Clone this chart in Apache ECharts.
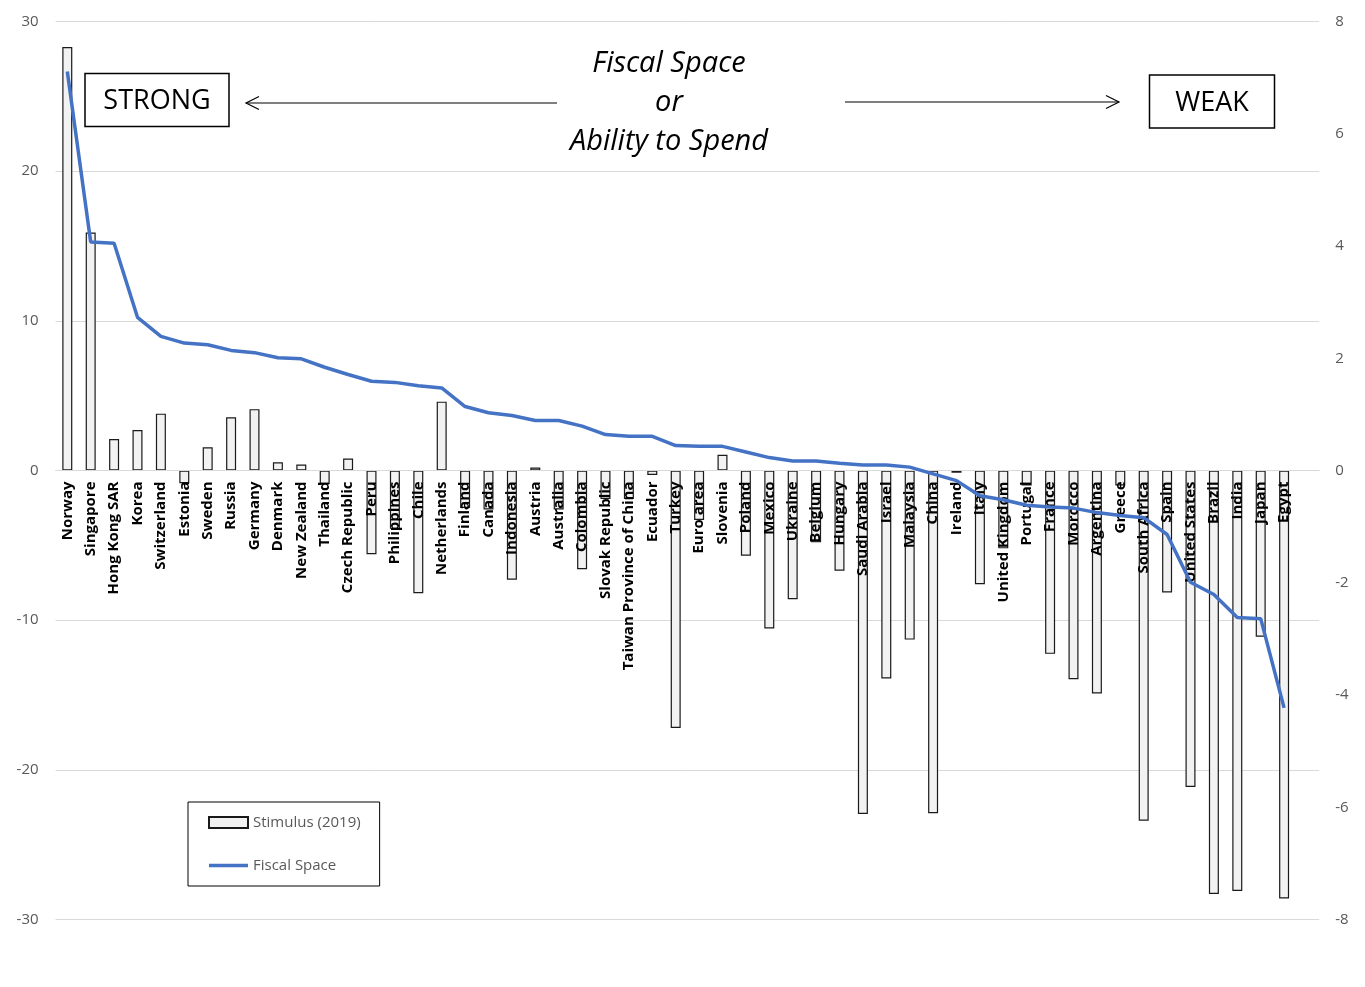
<!DOCTYPE html>
<html>
<head>
<meta charset="utf-8">
<script src="https://cdn.jsdelivr.net/npm/echarts@6/dist/echarts.min.js"></script>
<style>
  html, body { margin: 0; padding: 0; background: #ffffff; }
  #chart { width: 1365px; height: 987px; }
</style>
</head>
<body>
<div id="chart"></div>
<script>
// Countries ordered from strongest to weakest fiscal space
const countries = [
  'Norway', 'Singapore', 'Hong Kong SAR', 'Korea', 'Switzerland', 'Estonia', 'Sweden', 'Russia',
  'Germany', 'Denmark', 'New Zealand', 'Thailand', 'Czech Republic', 'Peru', 'Philippines', 'Chile',
  'Netherlands', 'Finland', 'Canada', 'Indonesia', 'Austria', 'Australia', 'Colombia', 'Slovak Republic',
  'Taiwan Province of China', 'Ecuador', 'Turkey', 'Euro area', 'Slovenia', 'Poland', 'Mexico', 'Ukraine',
  'Belgium', 'Hungary', 'Saudi Arabia', 'Israel', 'Malaysia', 'China', 'Ireland', 'Italy',
  'United Kingdom', 'Portugal', 'France', 'Morocco', 'Argentina', 'Greece', 'South Africa', 'Spain',
  'United States', 'Brazil', 'India', 'Japan', 'Egypt'
];

// Stimulus (2019), left axis
const stimulus2019 = [
  28.3, 15.9, 2.1, 2.7, 3.8, -0.85, 1.55, 3.55,
  4.1, 0.55, 0.4, -0.9, 0.8, -5.6, -3.9, -8.2,
  4.6, -2.5, -2.6, -7.3, 0.2, -2.6, -6.6, -1.9,
  -1.9, -0.3, -17.2, -3.3, 1.05, -5.7, -10.55, -8.6,
  -4.8, -6.7, -22.95, -13.9, -11.3, -22.9, -0.15, -7.6,
  -5.2, -1.0, -12.25, -13.95, -14.9, -1.0, -23.4, -8.15,
  -21.15, -28.3, -28.1, -11.1, -28.6
];

// Fiscal space, right axis
const fiscalSpace = [
  7.11, 4.07, 4.05, 2.73, 2.39, 2.27, 2.24, 2.14,
  2.10, 2.01, 1.99, 1.84, 1.71, 1.59, 1.57, 1.51,
  1.47, 1.14, 1.03, 0.98, 0.89, 0.89, 0.79, 0.64,
  0.61, 0.61, 0.445, 0.43, 0.43, 0.33, 0.23, 0.17,
  0.17, 0.13, 0.10, 0.10, 0.06, -0.06, -0.18, -0.45,
  -0.52, -0.62, -0.65, -0.67, -0.75, -0.80, -0.84, -1.14,
  -1.99, -2.21, -2.62, -2.64, -4.23
];

// Left and right axis ranges
const leftTicks = { min: -30, max: 30, interval: 10 };
const rightTicks = { min: -8, max: 8, interval: 2 };

// A trailing blank slot keeps the plot area running past the last country
const axisCategories = countries.concat(['']);

const gridTop = 21.5;
const gridBottom = 67.5;
const chartHeight = 987;
// Both value axes are symmetric, so zero sits half way down the plot
const zeroOffset = -(chartHeight - gridTop - gridBottom) / 2;

const chart = echarts.init(document.getElementById('chart'), null, { renderer: 'canvas' });

const labelFont = "'Open Sans', 'Liberation Sans', sans-serif";

chart.setOption({
  backgroundColor: '#ffffff',
  animation: false,
  grid: { left: 55.6, right: 45.8, top: gridTop, bottom: gridBottom, outerBoundsMode: 'none', containLabel: false },
  legend: {
    orient: 'vertical',
    left: 188,
    top: 802,
    padding: [13, 19, 13, 20],
    itemGap: 28,
    itemWidth: 39,
    itemHeight: 11,
    borderColor: '#000000',
    borderWidth: 1,
    textStyle: { color: '#595959', fontSize: 15, fontFamily: labelFont },
    data: [
      { name: 'Stimulus (2019)', icon: 'rect' },
      { name: 'Fiscal Space', icon: 'path://M0 0H39V3.5H0Z' }
    ]
  },
  xAxis: {
    type: 'category',
    data: axisCategories,
    z: 3,
    position: 'bottom',
    offset: zeroOffset,
    axisLine: { onZero: false, lineStyle: { color: '#d9d9d9', width: 1 } },
    axisTick: { show: false },
    splitLine: { show: false },
    axisLabel: {
      interval: 0,
      rotate: 90,
      margin: 11,
      color: '#000000',
      fontSize: 15,
      fontWeight: 'bold',
      fontFamily: labelFont
    }
  },
  yAxis: [
    {
      type: 'value',
      min: leftTicks.min,
      max: leftTicks.max,
      interval: leftTicks.interval,
      axisLine: { show: false },
      axisTick: { show: false },
      splitLine: { lineStyle: { color: '#d9d9d9', width: 1 } },
      axisLabel: { color: '#595959', fontSize: 15, fontFamily: labelFont, margin: 17 }
    },
    {
      type: 'value',
      min: rightTicks.min,
      max: rightTicks.max,
      interval: rightTicks.interval,
      axisLine: { show: false },
      axisTick: { show: false },
      splitLine: { show: false },
      axisLabel: { color: '#595959', fontSize: 15, fontFamily: labelFont, margin: 16 }
    }
  ],
  series: [
    {
      name: 'Stimulus (2019)',
      type: 'bar',
      yAxisIndex: 0,
      data: stimulus2019,
      barWidth: 10,
      z: 2,
      itemStyle: { color: '#f2f2f2', borderColor: '#1a1a1a', borderWidth: 1.2 }
    },
    {
      name: 'Fiscal Space',
      type: 'line',
      yAxisIndex: 1,
      data: fiscalSpace,
      symbol: 'none',
      z: 5,
      lineStyle: { color: '#4472c4', width: 3.5 },
      itemStyle: { color: '#4472c4' }
    }
  ],
  graphic: [
    // Centre caption
    { type: 'text', x: 669, y: 64, style: { text: 'Fiscal Space', fontSize: 29, fontStyle: 'italic', fontFamily: labelFont, fill: '#000', align: 'center', verticalAlign: 'middle' } },
    { type: 'text', x: 669, y: 103, style: { text: 'or', fontSize: 29, fontStyle: 'italic', fontFamily: labelFont, fill: '#000', align: 'center', verticalAlign: 'middle' } },
    { type: 'text', x: 669, y: 142, style: { text: 'Ability to Spend', fontSize: 29, fontStyle: 'italic', fontFamily: labelFont, fill: '#000', align: 'center', verticalAlign: 'middle' } },
    // STRONG box
    { type: 'rect', shape: { x: 85, y: 73.5, width: 144, height: 53 }, style: { fill: '#ffffff', stroke: '#000', lineWidth: 1.5 }, z: 10 },
    { type: 'text', x: 157, y: 101.5, z: 11, style: { text: 'STRONG', fontSize: 27, fontFamily: labelFont, fill: '#000', align: 'center', verticalAlign: 'middle' } },
    // WEAK box
    { type: 'rect', shape: { x: 1149.5, y: 75, width: 125, height: 53 }, style: { fill: '#ffffff', stroke: '#000', lineWidth: 1.5 }, z: 10 },
    { type: 'text', x: 1212, y: 103, z: 11, style: { text: 'WEAK', fontSize: 27, fontFamily: labelFont, fill: '#000', align: 'center', verticalAlign: 'middle' } },
    // Arrows
    { type: 'line', shape: { x1: 557, y1: 103, x2: 246, y2: 103 }, style: { stroke: '#000', lineWidth: 1.2 } },
    { type: 'polyline', shape: { points: [[259, 96.5], [246, 103], [259, 109.5]] }, style: { stroke: '#000', lineWidth: 1.2, fill: null } },
    { type: 'line', shape: { x1: 845, y1: 102, x2: 1119, y2: 102 }, style: { stroke: '#000', lineWidth: 1.2 } },
    { type: 'polyline', shape: { points: [[1106, 95.5], [1119, 102], [1106, 108.5]] }, style: { stroke: '#000', lineWidth: 1.2, fill: null } }
  ]
});
</script>
</body>
</html>
